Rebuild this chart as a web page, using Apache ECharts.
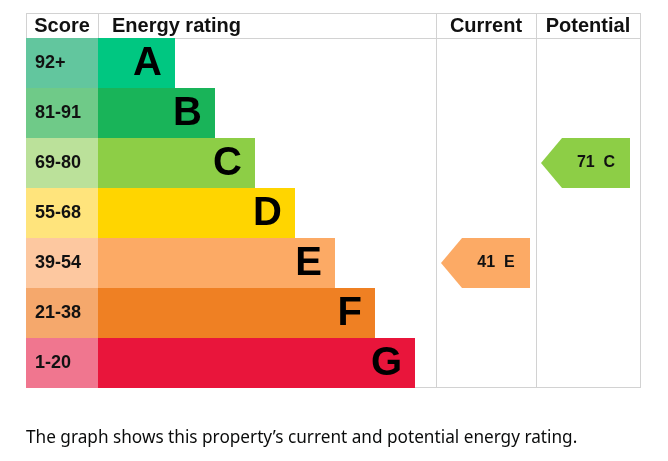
<!DOCTYPE html>
<html>
<head>
<meta charset="utf-8">
<script src="https://cdn.jsdelivr.net/npm/echarts@6/dist/echarts.min.js"></script>
<style>
  html, body { margin: 0; padding: 0; background: #fff; }
  #chart { width: 668px; height: 461px; }
</style>
</head>
<body>
<div id="chart"></div>
<script>
// bands, best first
var bands = ['A', 'B', 'C', 'D', 'E', 'F', 'G'];
var scoreRanges = ['92+', '81-91', '69-80', '55-68', '39-54', '21-38', '1-20'];
var bandRank = [1, 2, 3, 4, 5, 6, 7];
var bandColors = ['#00c781', '#19b459', '#8dce46', '#ffd500', '#fcaa65', '#ef8023', '#e9153b'];
var scoreColors = ['#62c69e', '#6fca88', '#bbe19a', '#ffe47c', '#fdc8a0', '#f5a86c', '#f0768f'];
var currentRating = { score: 41, band: 'E' };
var potentialRating = { score: 71, band: 'C' };
var headers = ['Score', 'Energy rating', 'Current', 'Potential'];
var caption = 'The graph shows this property\u2019s current and potential energy rating.';

(function () {
  var myChart = echarts.init(document.getElementById('chart'));
  var lineColor = '#d2d2d2';
  var top = 38, h = 350;

  function yAx(i) {
    return { type: 'category', data: bands, inverse: true, gridIndex: i, show: false };
  }
  function xAx(i, min, max) {
    return { type: 'value', gridIndex: i, min: min, max: max, show: false };
  }

  function arrowItem(rating) {
    return {
      value: [rating.score, bands.indexOf(rating.band)],
      itemStyle: { color: bandColors[bands.indexOf(rating.band)] }
    };
  }

  // arrow pointing left, filling the band row
  function renderArrow(params, api) {
    var cs = params.coordSys;
    var c = api.coord([0, api.value(1)]);
    var bh = api.size([0, 1])[1];
    var x0 = cs.x + 5, x1 = x0 + 21, x2 = x0 + 89;
    var y0 = c[1] - bh / 2, y1 = c[1] + bh / 2;
    var label = api.value(0) + '  ' + bands[api.value(1)];
    return {
      type: 'group',
      children: [
        {
          type: 'polygon',
          shape: { points: [[x0, c[1]], [x1, y0], [x2, y0], [x2, y1], [x1, y1]] },
          style: { fill: api.visual('color') }
        },
        {
          type: 'text',
          style: {
            x: (x1 + x2) / 2, y: c[1],
            text: label,
            align: 'center', verticalAlign: 'middle',
            font: 'bold 16px "Liberation Sans", Arial, sans-serif',
            fill: '#111'
          }
        }
      ]
    };
  }

  // rating bars start at the column's left edge, end at the band rank
  function renderBar(params, api) {
    var cs = params.coordSys;
    var idx = api.value(1);
    var end = api.coord([api.value(0), idx]);
    var bh = api.size([0, 1])[1];
    return {
      type: 'group',
      children: [
        {
          type: 'rect',
          shape: { x: cs.x, y: end[1] - bh / 2, width: end[0] - cs.x, height: bh },
          style: { fill: api.visual('color') }
        },
        {
          type: 'text',
          style: {
            x: end[0] - 13, y: end[1] + 1,
            text: bands[idx],
            align: 'right', verticalAlign: 'middle',
            font: 'bold 40px "Liberation Sans", Arial, sans-serif',
            fill: '#000'
          }
        }
      ]
    };
  }

  var lines = [
    [26, 13.5, 640, 13.5], [26, 38.5, 640, 38.5], [26, 387.5, 640, 387.5],
    [26.5, 13, 26.5, 388], [98.5, 13, 98.5, 38], [436.5, 13, 436.5, 388],
    [536.5, 13, 536.5, 388], [640.5, 13, 640.5, 388]
  ];
  var graphic = lines.map(function (l) {
    return {
      type: 'line', z: -1,
      shape: { x1: l[0], y1: l[1], x2: l[2], y2: l[3] },
      style: { stroke: lineColor, lineWidth: 1 }
    };
  });
  var headerPos = [[62, 'center'], [112, 'left'], [486, 'center'], [588, 'center']];
  headers.forEach(function (t, i) {
    graphic.push({
      type: 'text',
      style: {
        x: headerPos[i][0], y: 26, text: t,
        align: headerPos[i][1], verticalAlign: 'middle',
        font: 'bold 20px "Liberation Sans", Arial, sans-serif', fill: '#111'
      }
    });
  });
  graphic.push({
    type: 'text',
    style: {
      x: 26, y: 438, text: caption,
      verticalAlign: 'middle',
      font: '17.2px "Noto Sans", sans-serif', fill: '#0b0c0c'
    }
  });

  var option = {
    animation: false,
    grid: [
      { left: 26, top: top, width: 72, height: h },
      { left: 98, top: top, width: 338, height: h },
      { left: 436, top: top, width: 100, height: h },
      { left: 536, top: top, width: 104, height: h }
    ],
    xAxis: [xAx(0, 0, 1), xAx(1, -0.925, 7.525), xAx(2, 0, 1), xAx(3, 0, 1)],
    yAxis: [yAx(0), yAx(1), yAx(2), yAx(3)],
    graphic: graphic,
    series: [
      {
        type: 'bar', xAxisIndex: 0, yAxisIndex: 0,
        barWidth: '100%',
        data: scoreRanges.map(function (s, i) {
          return { value: 1, name: s, itemStyle: { color: scoreColors[i] } };
        }),
        label: {
          show: true, position: 'insideLeft', distance: 9,
          formatter: function (p) { return p.name; },
          color: '#111', fontSize: 18, fontWeight: 'bold',
          fontFamily: '"Liberation Sans", Arial, sans-serif'
        }
      },
      {
        type: 'custom', xAxisIndex: 1, yAxisIndex: 1,
        renderItem: renderBar,
        data: bandRank.map(function (v, i) {
          return { value: [v, i], itemStyle: { color: bandColors[i] } };
        })
      },
      {
        type: 'custom', xAxisIndex: 2, yAxisIndex: 2,
        renderItem: renderArrow,
        data: [arrowItem(currentRating)]
      },
      {
        type: 'custom', xAxisIndex: 3, yAxisIndex: 3,
        renderItem: renderArrow,
        data: [arrowItem(potentialRating)]
      }
    ]
  };

  myChart.setOption(option);
  window.addEventListener('resize', function () {
    myChart.resize();
  });
})();
</script>
</body>
</html>
